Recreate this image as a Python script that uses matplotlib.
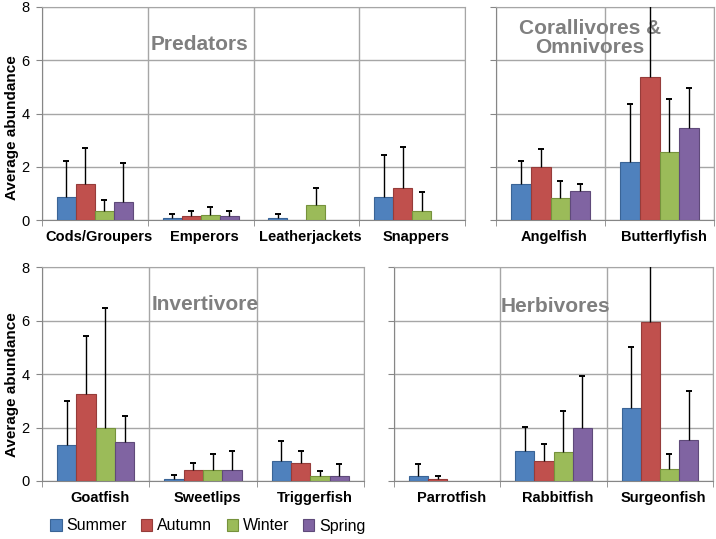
import numpy as np
import matplotlib
matplotlib.use("Agg")
import matplotlib.pyplot as plt
import matplotlib.transforms as mtransforms
from matplotlib.patches import Patch

plt.rcParams['font.family'] = ['Liberation Sans', 'DejaVu Sans']

seasons = ['Summer', 'Autumn', 'Winter', 'Spring']
colors = ['#4F81BD', '#C0504D', '#9BBB59', '#8064A2']
edges = ['#3A6496', '#963C3A', '#76923C', '#5F4A7A']

# means and upper error per season (rows: Summer, Autumn, Winter, Spring)
pred_fish = ['Cods/Groupers', 'Emperors', 'Leatherjackets', 'Snappers']
pred_mean = [[0.87, 0.07, 0.07, 0.87],
             [1.35, 0.15, 0.0, 1.20],
             [0.35, 0.20, 0.55, 0.35],
             [0.68, 0.14, 0.0, 0.0]]
pred_err = [[1.33, 0.15, 0.15, 1.58],
            [1.37, 0.17, 0.0, 1.55],
            [0.40, 0.30, 0.67, 0.72],
            [1.47, 0.18, 0.0, 0.0]]

cor_fish = ['Angelfish', 'Butterflyfish']
cor_mean = [[1.36, 2.16],
            [2.00, 5.37],
            [0.82, 2.56],
            [1.08, 3.45]]
cor_err = [[0.84, 2.19],
           [0.65, 3.00],
           [0.63, 1.99],
           [0.27, 1.50]]

inv_fish = ['Goatfish', 'Sweetlips', 'Triggerfish']
inv_mean = [[1.33, 0.07, 0.73],
            [3.27, 0.41, 0.67],
            [2.00, 0.40, 0.20],
            [1.47, 0.41, 0.20]]
inv_err = [[1.67, 0.15, 0.75],
           [2.15, 0.27, 0.46],
           [4.48, 0.60, 0.17],
           [0.97, 0.71, 0.45]]

herb_fish = ['Parrotfish', 'Rabbitfish', 'Surgeonfish']
herb_mean = [[0.19, 1.13, 2.73],
             [0.06, 0.73, 5.94],
             [0.0, 1.07, 0.46],
             [0.0, 1.99, 1.54]]
herb_err = [[0.44, 0.89, 2.29],
            [0.14, 0.67, 2.60],
            [0.0, 1.53, 0.54],
            [0.0, 1.92, 1.81]]

W, H = 716, 539
fig = plt.figure(figsize=(W / 100, H / 100), dpi=100)
gray = '#868686'
gridc = '#A6A6A6'
title_c = '#7F7F7F'


def px_axes(x0, x1, ytop, ybot):
    return fig.add_axes([x0 / W, 1 - ybot / H, (x1 - x0) / W, (ybot - ytop) / H])


def draw_panel(ax, fish, means, errs, ylabels):
    n = len(fish)
    x = np.arange(n) + 0.5
    w = 0.18
    for k in range(4):
        xs = x + (k - 1.5) * w
        m = np.array(means[k])
        e = np.array(errs[k])
        keep = m > 0
        xs, m, e = xs[keep], m[keep], e[keep]
        ax.bar(xs, m, w, color=colors[k], edgecolor=edges[k], lw=0.8, zorder=3)
        # plus-only error bars: stem from bar top, cap at the end
        ax.vlines(xs, m, m + e, color='black', lw=1, zorder=4)
        ax.plot(xs, m + e, ls='none', marker='_', ms=5, mew=1.4, color='black', zorder=4)
    ax.set_xlim(0, n)
    ax.set_ylim(0, 8)
    ax.set_yticks([0, 2, 4, 6, 8])
    ax.set_xticks(x)
    ax.set_xticklabels(fish, fontweight='bold', fontsize=10.5)
    ax.set_xticks(np.arange(n + 1), minor=True)
    ax.tick_params(axis='x', which='major', length=0, pad=7)
    ax.tick_params(axis='x', which='minor', length=4, color=gray)
    ax.tick_params(axis='y', length=4, color=gray, labelsize=10.5, pad=5)
    ax.grid(axis='y', color=gridc, lw=1, zorder=0)
    ax.grid(axis='x', which='minor', color=gridc, lw=1, zorder=0)
    ax.set_axisbelow(True)
    for s in ['top', 'right']:
        ax.spines[s].set_color(gridc)
    for s in ['left', 'bottom']:
        ax.spines[s].set_color(gray)
    if not ylabels:
        ax.set_yticklabels([])
    off = mtransforms.ScaledTranslation(4 / 100, 0, fig.dpi_scale_trans)
    for lab in ax.get_xticklabels():
        lab.set_transform(lab.get_transform() + off)


def panel_title(ax, x, y, s):
    ax.text(x / W, 1 - y / H, s, transform=fig.transFigure, ha='center', va='center',
            fontsize=15, fontweight='bold', color=title_c, zorder=2.5, linespacing=0.95)


ax1 = px_axes(42, 465, 7, 220)
draw_panel(ax1, pred_fish, pred_mean, pred_err, True)
panel_title(ax1, 200, 45, 'Predators')

ax2 = px_axes(496, 714, 7, 220)
draw_panel(ax2, cor_fish, cor_mean, cor_err, False)
panel_title(ax2, 590, 38, 'Corallivores &\nOmnivores')

ax3 = px_axes(42, 364, 267, 481)
draw_panel(ax3, inv_fish, inv_mean, inv_err, True)
panel_title(ax3, 205, 305, 'Invertivore')

ax4 = px_axes(394, 713, 267, 481)
draw_panel(ax4, herb_fish, herb_mean, herb_err, False)
panel_title(ax4, 555, 307, 'Herbivores')

fig.text(12 / W, 1 - 128 / H, 'Average abundance', rotation=90, ha='center', va='center',
         fontsize=11, fontweight='bold')
fig.text(12 / W, 1 - 385 / H, 'Average abundance', rotation=90, ha='center', va='center',
         fontsize=11, fontweight='bold')

handles = [Patch(facecolor=colors[k], edgecolor=edges[k], lw=0.8) for k in range(4)]
fig.legend(handles, seasons, loc='center', bbox_to_anchor=(208 / W, 1 - 526 / H), ncol=4,
           frameon=False, fontsize=11.5, handlelength=0.7, handleheight=0.7,
           handletextpad=0.3, columnspacing=0.9)

fig.savefig('out.png', dpi=100)
